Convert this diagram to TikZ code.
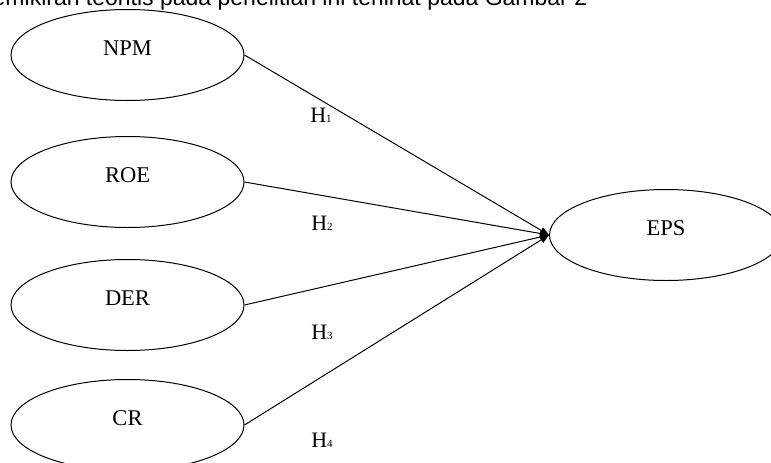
\documentclass[tikz,border=0pt]{standalone}
\usepackage{fontspec}
\setmainfont{Liberation Serif}
\newfontfamily\captionsans{Liberation Sans}
\usetikzlibrary{shapes.geometric,arrows.meta}
\newcommand{\hypsub}[1]{{\fontsize{11}{11}\selectfont #1}}

\begin{document}
\begin{tikzpicture}[x=1pt,y=-1pt,
  var/.style={ellipse,draw,line width=1pt,minimum width=233pt,minimum height=91pt,inner sep=0pt},
  varname/.style={inner sep=0pt,yshift=7pt,font=\fontsize{22.5}{22.5}\selectfont},
  link/.style={line width=1pt,-{Triangle[length=9pt,width=7pt]}},
  hyp/.style={inner sep=0pt,font=\fontsize{22}{22}\selectfont}]
\useasboundingbox (0,0) rectangle (771,463);

% running text line above the figure
\node[anchor=base west,inner sep=0pt,font=\captionsans\fontsize{23}{23}\selectfont] (caption) at (-7.5,5.5)
  {emikiran teoritis pada penelitian ini terlihat pada Gambar 2};

% independent variables
\node[var,label={[varname]center:NPM}] (npm) at (127.5,55) {};
\node[var,label={[varname]center:ROE}] (roe) at (127.5,182) {};
\node[var,label={[varname]center:DER}] (der) at (127.5,305) {};
\node[var,label={[varname]center:CR}]  (cr)  at (127.5,425) {};

% dependent variable
\node[var,label={[varname]center:EPS}] (eps) at (666,235) {};

% hypothesised effects
\draw[link] (npm.east) -- (eps.west);
\draw[link] (roe.east) -- (eps.west);
\draw[link] (der.east) -- (eps.west);
\draw[link] (cr.east)  -- (eps.west);

% hypothesis labels
\node[hyp] (h1) at (321,115) {H\hypsub{1}};
\node[hyp] (h2) at (322,223) {H\hypsub{2}};
\node[hyp] (h3) at (322,332) {H\hypsub{3}};
\node[hyp] (h4) at (322,440) {H\hypsub{4}};
\end{tikzpicture}
\end{document}
